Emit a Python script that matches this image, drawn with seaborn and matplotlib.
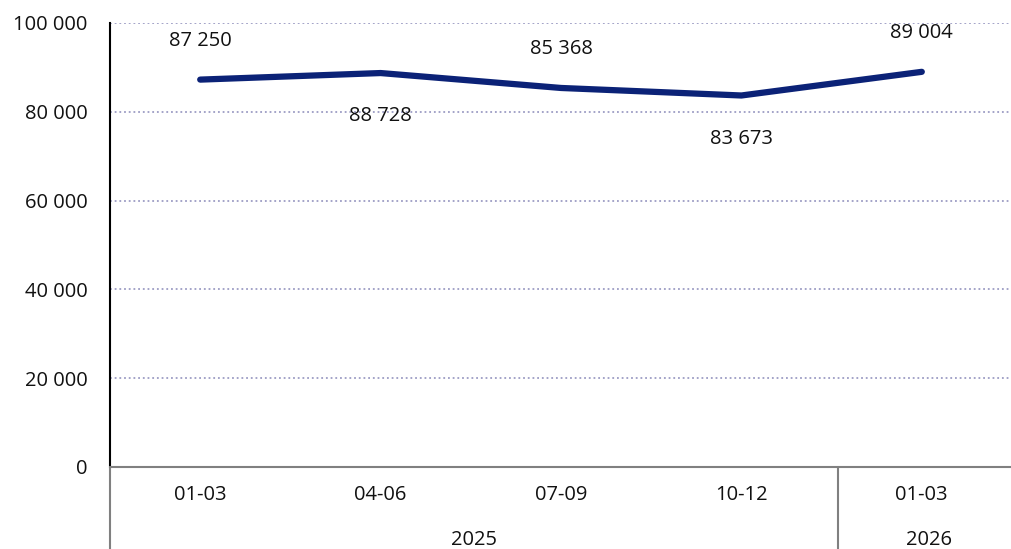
import matplotlib
matplotlib.use("Agg")
import matplotlib.pyplot as plt
import seaborn as sns
import pandas as pd

quarters = ["01-03", "04-06", "07-09", "10-12", "01-03"]
years = ["2025", "2025", "2025", "2025", "2026"]
values = [87250, 88728, 85368, 83673, 89004]
label_pos = ["above", "below", "above", "below", "above"]
y_ticks = [0, 20000, 40000, 60000, 80000, 100000]

sns.set_theme(style="white")
plt.rcParams['font.family'] = ['Open Sans', 'DejaVu Sans']

df = pd.DataFrame({"x": range(len(values)), "value": values})

fig = plt.figure(figsize=(10.12, 5.49), dpi=100)
W, H = 1012, 549
left, right, top, bottom = 110, 1012, 23, 467
ax = fig.add_axes([left / W, 1 - bottom / H, (right - left) / W, (bottom - top) / H])

sns.lineplot(data=df, x="x", y="value", ax=ax, color="#0b2277", linewidth=4.5,
             solid_capstyle="round", solid_joinstyle="round")

FS = 14.5
ax.set_xlim(-0.5, len(values) - 0.5)
ax.set_ylim(0, 100000)
ax.set_yticks(y_ticks)
ax.set_yticklabels([f"{v:,}".replace(",", " ") for v in y_ticks], fontsize=FS, color="#111111")
ax.tick_params(axis="y", length=0, pad=16)
ax.set_xticks([])
ax.set_xlabel("")
ax.set_ylabel("")
for y in y_ticks[1:]:
    ax.axhline(y, color="#9c9cc4", linewidth=1.3, linestyle=(0, (1, 1.6)), zorder=0)

for s in ["top", "right", "bottom"]:
    ax.spines[s].set_visible(False)
ax.spines["left"].set_color("#000000")
ax.spines["left"].set_linewidth(1.5)

for i, (v, p) in enumerate(zip(values, label_pos)):
    off = 28 if p == "above" else -31
    ax.annotate(f"{v:,}".replace(",", " "), (i, v), xytext=(0, off), textcoords="offset points",
                ha="center", va="center", fontsize=FS, color="#111111")

# category axis below
def fx(px):
    return px / W
def fy(py):
    return 1 - py / H

gray = "#808080"
fig.add_artist(plt.Line2D([fx(left), fx(right)], [fy(bottom), fy(bottom)], color=gray, lw=1.5))
fig.add_artist(plt.Line2D([fx(left), fx(left)], [fy(bottom), 0], color=gray, lw=1.5))
sep_px = 838
fig.add_artist(plt.Line2D([fx(sep_px), fx(sep_px)], [fy(bottom), 0], color=gray, lw=1.5))

step = (right - left) / len(values)
for i, q in enumerate(quarters):
    cx = left + step * (i + 0.5)
    fig.text(fx(cx), fy(495), q, ha="center", va="center", fontsize=FS, color="#111111")

fig.text(fx((left + sep_px) / 2), fy(540), "2025", ha="center", va="center", fontsize=FS, color="#111111")
fig.text(fx((sep_px + right) / 2 + 4), fy(540), "2026", ha="center", va="center", fontsize=FS, color="#111111")

fig.savefig("out.png", dpi=100)
